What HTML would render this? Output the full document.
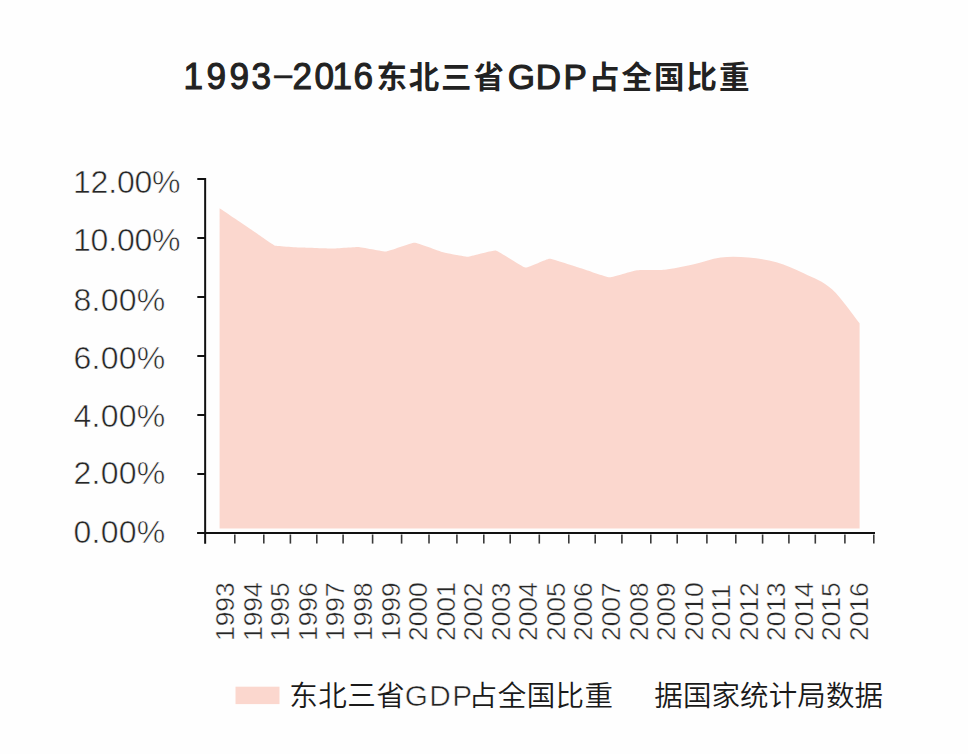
<!DOCTYPE html>
<html><head><meta charset="utf-8">
<style>
html,body{margin:0;padding:0;background:#fefefe;}
body{width:968px;height:754px;position:relative;overflow:hidden;}
.t{position:absolute;white-space:nowrap;line-height:1;}
.tb{font-family:"Liberation Sans","Noto Sans CJK SC",sans-serif;font-weight:700;color:#222;}
.tr{font-family:"Liberation Sans",sans-serif;font-weight:400;color:#222;-webkit-text-stroke:1.1px #222;}
.tc{font-family:"Noto Sans CJK SC",sans-serif;font-weight:700;color:#222;}
.yl{font-family:"Liberation Sans",sans-serif;color:#262626;-webkit-text-stroke:0.55px #fff;paint-order:fill stroke;}
.xl{font-family:"Liberation Sans",sans-serif;color:#262626;-webkit-text-stroke:0.45px #fff;paint-order:fill stroke;transform-origin:0 0;transform:rotate(-90deg);}
.lg{font-family:"Liberation Sans","Noto Sans CJK SC",sans-serif;color:#222;-webkit-text-stroke:0.6px #fff;paint-order:fill stroke;}
.lc{font-family:"Noto Sans CJK SC",sans-serif;font-weight:350;color:#1a1a1a;}
</style></head><body>

<svg width="968" height="754" viewBox="0 0 968 754" style="position:absolute;left:0;top:0">
<path d="M219.6,528.4 L219.6,208.3 C219.6,208.3 245.6,225.8 247.4,227.0 C249.2,228.2 272.6,244.7 274.5,245.4 C276.4,246.1 301.0,247.5 302.9,247.6 C304.8,247.7 328.9,248.6 330.7,248.6 C332.5,248.6 356.4,246.8 358.3,246.9 C360.2,247.0 384.5,251.6 386.4,251.5 C388.3,251.4 411.7,242.8 414.5,242.8 C417.3,242.8 439.3,251.2 442.0,251.9 C444.7,252.6 465.1,256.8 467.8,256.7 C470.5,256.6 492.8,250.0 495.7,250.5 C498.6,251.0 522.8,267.2 525.5,267.6 C528.2,268.0 546.7,258.8 549.5,258.8 C552.3,258.8 577.0,267.1 581.0,268.3 C585.0,269.5 605.9,277.2 609.6,277.3 C613.3,277.4 631.5,270.9 637.0,270.2 C642.5,269.4 657.5,270.5 665.0,269.8 C672.5,269.1 683.6,266.6 692.9,264.6 C702.2,262.6 711.4,258.8 720.7,257.6 C730.0,256.4 739.2,256.8 748.5,257.6 C757.8,258.4 767.1,259.7 776.4,262.3 C785.7,264.9 794.9,269.0 804.2,273.5 C813.5,278.0 822.8,281.0 832.0,289.3 C841.2,297.6 855.0,317.6 859.6,323.2 L859.6,528.4 Z" fill="#fbd7ce"/>
<g stroke="#111" stroke-width="2" fill="none">
<path d="M205.15,178 V543.7"/>
<path d="M197.3,533.0 H205"/>
<path d="M197.3,474.0 H205"/>
<path d="M197.3,415.0 H205"/>
<path d="M197.3,356.0 H205"/>
<path d="M197.3,297.0 H205"/>
<path d="M197.3,238.0 H205"/>
<path d="M197.3,179.0 H205"/>
<path d="M197.3,533 H875"/>
<path d="M234.8,534.5 V543.6" stroke-width="1.6" stroke="#3a3a3a"/>
<path d="M263.8,534.5 V543.6" stroke-width="1.6" stroke="#3a3a3a"/>
<path d="M290.4,534.5 V543.6" stroke-width="1.6" stroke="#3a3a3a"/>
<path d="M316.8,534.5 V543.6" stroke-width="1.6" stroke="#3a3a3a"/>
<path d="M343.1,534.5 V543.6" stroke-width="1.6" stroke="#3a3a3a"/>
<path d="M372.6,534.5 V543.6" stroke-width="1.6" stroke="#3a3a3a"/>
<path d="M401.6,534.5 V543.6" stroke-width="1.6" stroke="#3a3a3a"/>
<path d="M429.0,534.5 V543.6" stroke-width="1.6" stroke="#3a3a3a"/>
<path d="M456.9,534.5 V543.6" stroke-width="1.6" stroke="#3a3a3a"/>
<path d="M483.8,534.5 V543.6" stroke-width="1.6" stroke="#3a3a3a"/>
<path d="M510.2,534.5 V543.6" stroke-width="1.6" stroke="#3a3a3a"/>
<path d="M539.3,534.5 V543.6" stroke-width="1.6" stroke="#3a3a3a"/>
<path d="M568.8,534.5 V543.6" stroke-width="1.6" stroke="#3a3a3a"/>
<path d="M595.2,534.5 V543.6" stroke-width="1.6" stroke="#3a3a3a"/>
<path d="M621.9,534.5 V543.6" stroke-width="1.6" stroke="#3a3a3a"/>
<path d="M650.8,534.5 V543.6" stroke-width="1.6" stroke="#3a3a3a"/>
<path d="M677.2,534.5 V543.6" stroke-width="1.6" stroke="#3a3a3a"/>
<path d="M706.9,534.5 V543.6" stroke-width="1.6" stroke="#3a3a3a"/>
<path d="M735.8,534.5 V543.6" stroke-width="1.6" stroke="#3a3a3a"/>
<path d="M762.6,534.5 V543.6" stroke-width="1.6" stroke="#3a3a3a"/>
<path d="M788.9,534.5 V543.6" stroke-width="1.6" stroke="#3a3a3a"/>
<path d="M815.3,534.5 V543.6" stroke-width="1.6" stroke="#3a3a3a"/>
<path d="M844.9,534.5 V543.6" stroke-width="1.6" stroke="#3a3a3a"/>
<path d="M873.8,534.5 V543.6" stroke-width="1.6" stroke="#3a3a3a"/>
</g>
<rect x="235.5" y="686.7" width="44" height="17.4" fill="#fbd7ce"/>
</svg>
<div class="t tr" id="td0" style="left:183.06px;top:58.28px;font-size:37px;transform:scaleX(0.95);transform-origin:10.79px 0">1</div>
<div class="t tr" id="td1" style="left:205.87px;top:58.28px;font-size:37px;transform:scaleX(0.95);transform-origin:10.28px 0">9</div>
<div class="t tr" id="td2" style="left:228.82px;top:58.28px;font-size:37px;transform:scaleX(0.95);transform-origin:10.28px 0">9</div>
<div class="t tr" id="td3" style="left:250.92px;top:58.28px;font-size:37px;transform:scaleX(0.95);transform-origin:10.18px 0">3</div>
<div class="t tr" id="td4" style="left:291.81px;top:58.28px;font-size:37px;transform:scaleX(0.95);transform-origin:10.29px 0">2</div>
<div class="t tr" id="td5" style="left:314.11px;top:58.28px;font-size:37px;transform:scaleX(0.95);transform-origin:10.29px 0">0</div>
<div class="t tr" id="td6" style="left:332.21px;top:58.28px;font-size:37px;transform:scaleX(0.95);transform-origin:10.79px 0">1</div>
<div class="t tr" id="td7" style="left:353.33px;top:58.28px;font-size:37px;transform:scaleX(0.95);transform-origin:10.42px 0">6</div>
<div class="t tr" id="tdash" style="left:272.28px;top:58.08px;font-size:37px;-webkit-text-stroke:0.3px #222">&#8722;</div>
<div class="t tr" id="tg0" style="left:507.87px;top:59.17px;font-size:35px">G</div>
<div class="t tr" id="tg1" style="left:535.71px;top:59.17px;font-size:35px">D</div>
<div class="t tr" id="tg2" style="left:563.41px;top:59.17px;font-size:35px">P</div>
<div class="t tc" id="tc1" style="left:376.46px;top:59.75px;font-size:30.5px;letter-spacing:1.83px">东北三省</div>
<div class="t tc" id="tc2" style="left:588.88px;top:59.75px;font-size:30.5px;letter-spacing:2.03px">占全国比重</div>
<div class="t yl" id="y0" style="left:73.60px;top:515.91px;font-size:32px;letter-spacing:0.2px">0.00%</div>
<div class="t yl" id="y1" style="left:73.60px;top:457.21px;font-size:32px;letter-spacing:0.2px">2.00%</div>
<div class="t yl" id="y2" style="left:73.60px;top:399.71px;font-size:32px;letter-spacing:0.2px">4.00%</div>
<div class="t yl" id="y3" style="left:73.60px;top:341.91px;font-size:32px;letter-spacing:0.2px">6.00%</div>
<div class="t yl" id="y4" style="left:73.60px;top:283.81px;font-size:32px;letter-spacing:0.2px">8.00%</div>
<div class="t yl" id="y5" style="left:73.00px;top:223.81px;font-size:32px;letter-spacing:-0.2px">10.00%</div>
<div class="t yl" id="y6" style="left:73.00px;top:165.61px;font-size:32px;letter-spacing:-0.2px">12.00%</div>
<div class="t xl" id="x0" style="left:212.28px;top:641.10px;font-size:26.4px">1993</div>
<div class="t xl" id="x1" style="left:239.83px;top:641.10px;font-size:26.4px">1994</div>
<div class="t xl" id="x2" style="left:267.38px;top:641.10px;font-size:26.4px">1995</div>
<div class="t xl" id="x3" style="left:294.93px;top:641.10px;font-size:26.4px">1996</div>
<div class="t xl" id="x4" style="left:322.48px;top:641.10px;font-size:26.4px">1997</div>
<div class="t xl" id="x5" style="left:350.03px;top:641.10px;font-size:26.4px">1998</div>
<div class="t xl" id="x6" style="left:377.58px;top:641.10px;font-size:26.4px">1999</div>
<div class="t xl" id="x7" style="left:405.13px;top:641.10px;font-size:26.4px">2000</div>
<div class="t xl" id="x8" style="left:432.68px;top:641.10px;font-size:26.4px">2001</div>
<div class="t xl" id="x9" style="left:460.23px;top:641.10px;font-size:26.4px">2002</div>
<div class="t xl" id="x10" style="left:487.78px;top:641.10px;font-size:26.4px">2003</div>
<div class="t xl" id="x11" style="left:515.33px;top:641.10px;font-size:26.4px">2004</div>
<div class="t xl" id="x12" style="left:542.88px;top:641.10px;font-size:26.4px">2005</div>
<div class="t xl" id="x13" style="left:570.43px;top:641.10px;font-size:26.4px">2006</div>
<div class="t xl" id="x14" style="left:597.98px;top:641.10px;font-size:26.4px">2007</div>
<div class="t xl" id="x15" style="left:625.53px;top:641.10px;font-size:26.4px">2008</div>
<div class="t xl" id="x16" style="left:653.08px;top:641.10px;font-size:26.4px">2009</div>
<div class="t xl" id="x17" style="left:680.63px;top:641.10px;font-size:26.4px">2010</div>
<div class="t xl" id="x18" style="left:708.18px;top:641.10px;font-size:26.4px">2011</div>
<div class="t xl" id="x19" style="left:735.73px;top:641.10px;font-size:26.4px">2012</div>
<div class="t xl" id="x20" style="left:763.28px;top:641.10px;font-size:26.4px">2013</div>
<div class="t xl" id="x21" style="left:790.83px;top:641.10px;font-size:26.4px">2014</div>
<div class="t xl" id="x22" style="left:818.38px;top:641.10px;font-size:26.4px">2015</div>
<div class="t xl" id="x23" style="left:845.93px;top:641.10px;font-size:26.4px">2016</div>
<div class="t lc" id="l1" style="left:289.25px;top:679.62px;font-size:28.5px;letter-spacing:0.53px">东北三省</div>
<div class="t lg" id="l2" style="left:404.70px;top:681.07px;font-size:29.8px;letter-spacing:1.45px">GDP</div>
<div class="t lc" id="l3" style="left:468.75px;top:679.62px;font-size:28.5px;letter-spacing:0.45px">占全国比重</div>
<div class="t lc" id="l4" style="left:654.30px;top:679.62px;font-size:28.5px;letter-spacing:0.1px">据国家统计局数据</div>
</body></html>
